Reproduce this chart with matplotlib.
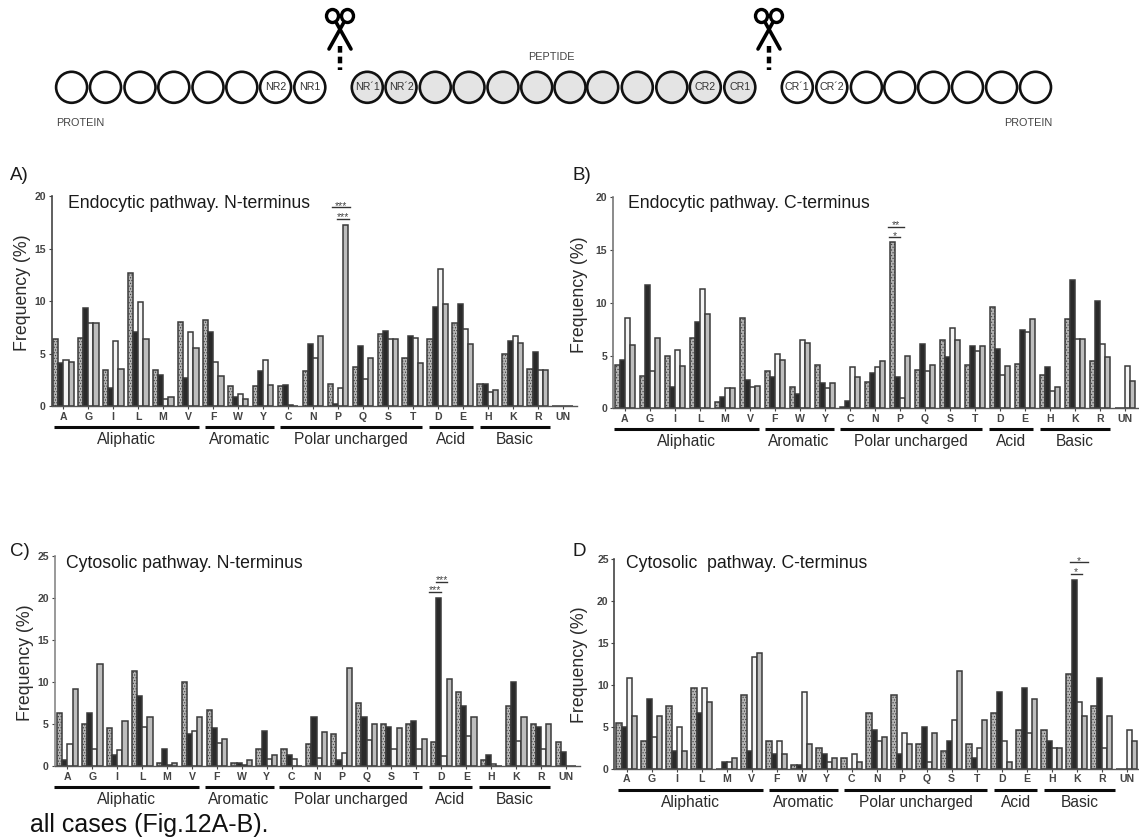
import matplotlib
matplotlib.use("Agg")
import matplotlib.pyplot as plt
from matplotlib.patches import Ellipse

plt.rcParams['font.family'] = ['Liberation Sans', 'DejaVu Sans']
plt.rcParams['hatch.linewidth'] = 0.5

W, H = 1139, 840

residues = ["A", "G", "I", "L", "M", "V", "F", "W", "Y", "C", "N", "P", "Q", "S", "T", "D", "E", "H", "K", "R", "UN"]
groups = ["Aliphatic", "Aromatic", "Polar uncharged", "Acid", "Basic"]
group_starts = [-0.37, 5.67, 8.67, 14.65, 16.67]
group_ends = [5.43, 8.43, 14.37, 16.4, 19.5]

a_s1 = [6.4, 6.5, 3.5, 12.7, 3.5, 8.0, 8.2, 1.9, 1.9, 1.9, 3.4, 2.1, 3.7, 6.9, 4.6, 6.4, 7.9, 2.1, 5.0, 3.6, 0]
a_s2 = [4.1, 9.4, 1.7, 7.1, 3.0, 2.7, 7.1, 0.9, 3.4, 2.0, 5.9, 0.2, 5.7, 7.2, 6.7, 9.5, 9.7, 2.1, 6.2, 5.2, 0]
a_s3 = [4.4, 7.9, 6.2, 9.9, 0.7, 7.1, 4.2, 1.2, 4.4, 0.1, 4.6, 1.7, 2.6, 6.4, 6.5, 13.1, 7.4, 1.4, 6.7, 3.5, 0]
a_s4 = [4.2, 7.9, 3.6, 6.4, 0.9, 5.6, 2.9, 0.7, 2.0, 0, 6.7, 17.3, 4.6, 6.4, 4.1, 9.7, 5.9, 1.6, 6.0, 3.5, 0]

b_s1 = [4.1, 3.1, 5.0, 6.7, 0.6, 8.6, 3.5, 2.0, 4.1, 0.1, 2.5, 15.8, 3.6, 6.5, 4.1, 9.6, 4.2, 3.2, 8.5, 4.5, 0]
b_s2 = [4.6, 11.7, 2.0, 8.2, 1.1, 2.7, 3.0, 1.4, 2.4, 0.7, 3.3, 3.0, 6.1, 4.9, 5.9, 5.6, 7.4, 3.9, 12.2, 10.2, 0]
b_s3 = [8.6, 3.5, 5.5, 11.3, 1.9, 2.0, 5.1, 6.5, 1.9, 3.9, 3.95, 1.0, 3.5, 7.6, 5.4, 3.2, 7.2, 1.6, 6.6, 6.1, 4.0]
b_s4 = [6.0, 6.7, 4.0, 8.9, 1.9, 2.1, 4.6, 6.2, 2.4, 3.0, 4.5, 5.0, 4.1, 6.5, 5.9, 4.0, 8.5, 2.0, 6.6, 4.9, 2.6]

c_s1 = [6.3, 5.0, 4.6, 11.3, 0.4, 10.0, 6.7, 0.4, 2.1, 2.1, 2.6, 3.8, 7.5, 5.0, 5.0, 2.9, 8.8, 0.8, 7.1, 5.0, 2.9]
c_s2 = [0.8, 6.3, 1.3, 8.3, 2.1, 3.8, 4.6, 0.4, 4.2, 1.3, 5.8, 0.8, 5.8, 4.7, 5.4, 20.0, 7.1, 1.3, 10.0, 4.7, 1.7]
c_s3 = [2.6, 2.1, 1.9, 4.7, 0.2, 4.2, 2.8, 0.2, 0.9, 0.9, 1.0, 1.6, 3.1, 2.1, 2.1, 1.2, 3.6, 0.3, 3.0, 2.1, 0]
c_s4 = [9.2, 12.1, 5.4, 5.8, 0.4, 5.8, 3.3, 0.8, 1.3, 0, 4.1, 11.7, 5.0, 4.6, 3.3, 10.4, 5.8, 0, 5.8, 5.0, 0]

d_s1 = [5.4, 3.3, 7.5, 9.6, 0, 8.8, 3.3, 0.4, 2.5, 1.3, 6.7, 8.8, 2.9, 2.1, 2.9, 6.7, 4.6, 4.6, 11.3, 7.5, 0]
d_s2 = [5.0, 8.3, 2.1, 6.7, 0.8, 2.1, 1.7, 0.4, 1.7, 0, 4.6, 1.7, 5.0, 3.3, 1.3, 9.2, 9.6, 3.3, 22.5, 10.8, 0]
d_s3 = [10.8, 3.8, 5.0, 9.6, 0.8, 13.3, 3.3, 9.2, 0.8, 1.7, 3.3, 4.2, 0.8, 5.8, 2.5, 3.3, 4.2, 2.5, 7.9, 2.5, 4.6]
d_s4 = [6.3, 6.3, 2.1, 7.9, 1.3, 13.8, 1.7, 2.9, 1.3, 0.8, 3.8, 2.9, 4.2, 11.7, 5.8, 0.8, 8.3, 2.5, 6.3, 6.3, 3.3]

DARK = '#3a3a3a'
TXT = '#2b2b2b'
styles = [dict(facecolor='#b5b5b5', hatch='......'),
          dict(facecolor='#2a2a2a'),
          dict(facecolor='#f4f4f4'),
          dict(facecolor='#bdbdbd')]

fig = plt.figure(figsize=(W / 100, H / 100), dpi=100, facecolor='white')
canvas = fig.add_axes([0, 0, 1, 1])
canvas.set_xlim(0, W)
canvas.set_ylim(H, 0)
canvas.axis('off')


def panel(series, x_axis, x_first, x_last, x_end, y_top, y_zero, ymax, yticks, title, title_x, title_y,
          letter, letter_x, letter_y, ylab_x, ylab_y, group_shift, sig, spine='#444444'):
    unit = (x_last - x_first) / 20.0
    ax = fig.add_axes([x_axis / W, 1 - y_zero / H, (x_end - x_axis) / W, (y_zero - y_top) / H])
    ax.set_xlim((x_axis - x_first) / unit, (x_end - x_first) / unit)
    ax.set_ylim(0, ymax)
    ax.patch.set_alpha(0)
    w = 5.2 / unit
    for k, vals in enumerate(series):
        xs = [i + (k - 1.5) * w for i in range(len(residues))]
        ax.bar(xs, vals, width=w, edgecolor=DARK, linewidth=1.1, **styles[k])
    ax.set_xticks(range(len(residues)))
    ax.set_xticklabels(residues, fontsize=7.6, fontweight='bold', color='#444444')
    ax.set_yticks(yticks)
    ax.set_yticklabels([str(t) for t in yticks], fontsize=7.6, fontweight='bold', color='#444444')
    ax.tick_params(axis='x', length=2, width=0.8, pad=2, color='#444444')
    ax.tick_params(axis='y', length=2.5, width=0.8, pad=1.5, color='#444444')
    for s in ('top', 'right'):
        ax.spines[s].set_visible(False)
    ax.spines['bottom'].set_color('#555555')
    ax.spines['left'].set_color(spine)
    ax.spines['bottom'].set_linewidth(1.0)
    ax.spines['left'].set_linewidth(1.2)

    trans = ax.get_xaxis_transform()
    bar_y = -20.8 / (y_zero - y_top)
    lab_y = -33.5 / (y_zero - y_top)
    for g, a, b in zip(groups, group_starts, group_ends):
        ax.plot([a + group_shift, b + group_shift], [bar_y, bar_y], color='#0a0a0a', lw=2.2,
                transform=trans, clip_on=False, solid_capstyle='butt')
        ax.text((a + b) / 2 + group_shift, lab_y, g, transform=trans, ha='center', va='center',
                fontsize=11.2, color=TXT, clip_on=False)

    for (x0, x1, yv, stars) in sig:
        ax.plot([x0, x1], [yv, yv], color='#333333', lw=1.0, clip_on=False)
        ax.annotate(stars, xy=((x0 + x1) / 2, yv), xytext=(0, -1.0), textcoords='offset points',
                    ha='center', va='baseline', fontsize=7.5, color='#444444')

    canvas.text(title_x, title_y, title, fontsize=12.7, color='#1a1a1a', ha='left', va='center')
    canvas.text(letter_x, letter_y, letter, fontsize=13.5, color='#1a1a1a', ha='left', va='center')
    canvas.text(ylab_x, ylab_y, 'Frequency (%)', fontsize=12.8, color='#2b2b2b', rotation=90,
                ha='center', va='center')


panel([a_s1, a_s2, a_s3, a_s4], 51.5, 63.3, 562.7, 577, 196.3, 406.3, 20, [0, 5, 10, 15, 20],
      'Endocytic pathway. N-terminus', 68, 203, 'A)', 10, 176, 22.7, 293, 0,
      [(10.76, 11.48, 18.95, '***'), (10.98, 11.45, 17.87, '***')])
panel([b_s1, b_s2, b_s3, b_s4], 612.7, 625, 1125, 1139, 197.3, 408.3, 20, [0, 5, 10, 15, 20],
      'Endocytic pathway. C-terminus', 628, 203, 'B)', 572, 176, 580, 295, -0.09,
      [(10.52, 11.16, 17.2, '**'), (10.56, 11.0, 16.2, '*')], spine='#777777')
panel([c_s1, c_s2, c_s3, c_s4], 54.5, 67.3, 566, 580, 555.7, 766.3, 25, [0, 5, 10, 15, 20, 25],
      'Cytosolic pathway. N-terminus', 66, 563, 'C)', 10, 551, 25, 663, -0.16,
      [(14.52, 14.98, 20.7, '***'), (14.8, 15.23, 21.9, '***')], spine='#888888')
panel([d_s1, d_s2, d_s3, d_s4], 614.3, 626.7, 1126.7, 1139, 559, 768.7, 25, [0, 5, 10, 15, 20, 25],
      'Cytosolic  pathway. C-terminus', 626, 563, 'D', 573, 551, 580, 665, 0.03,
      [(17.73, 18.45, 24.6, '*'), (17.76, 18.2, 23.25, '*')])

canvas.text(30, 825, 'all cases (Fig.12A-B).', fontsize=18, color='#111111', ha='left', va='center')

# top schematic
CY = 87.3
R = 15.5
left_x = [71.6, 105.5, 140, 173.8, 208, 241.8, 275.6, 309.8]
left_t = ['', '', '', '', '', '', 'NR2', 'NR1']
pep_x = [367.3, 401, 435.3, 469, 503, 536.7, 570, 602.7, 637.3, 671.8, 705.3, 739.8]
pep_t = ['NR´1', 'NR´2', '', '', '', '', '', '', '', '', 'CR2', 'CR1']
right_x = [797.3, 831.8, 866.4, 899.8, 933.6, 967.5, 1001.6, 1035.5]
right_t = ['CR´1', 'CR´2', '', '', '', '', '', '']
for xs, ts, fc in ((left_x, left_t, 'white'), (pep_x, pep_t, '#e4e4e4'), (right_x, right_t, 'white')):
    for x, t in zip(xs, ts):
        canvas.add_patch(Ellipse((x, CY), 2 * R, 2 * R, facecolor=fc, edgecolor='#111111', lw=1.9))
        if t:
            canvas.text(x, CY, t, fontsize=7.7, color='#333333', ha='center', va='center')
canvas.text(56, 123.5, 'PROTEIN', fontsize=7.8, color='#444444', ha='left', va='center')
canvas.text(1052, 123.5, 'PROTEIN', fontsize=7.8, color='#444444', ha='right', va='center')
canvas.text(528, 56.7, 'PEPTIDE', fontsize=7.8, color='#444444', ha='left', va='center')

for sx in (340, 769):
    for d in (-1, 1):
        canvas.add_patch(Ellipse((sx + d * 7.5, 16), 12, 13, facecolor='none', edgecolor='black', lw=2.4))
        canvas.plot([sx + d * 3.5, sx - d * 11], [23, 49], color='black', lw=2.6, solid_capstyle='round')
    canvas.plot([sx, sx], [46, 70], color='black', lw=3.2, linestyle=(0, (1.5, 0.9)))

fig.savefig('out.png', dpi=100, facecolor='white')
